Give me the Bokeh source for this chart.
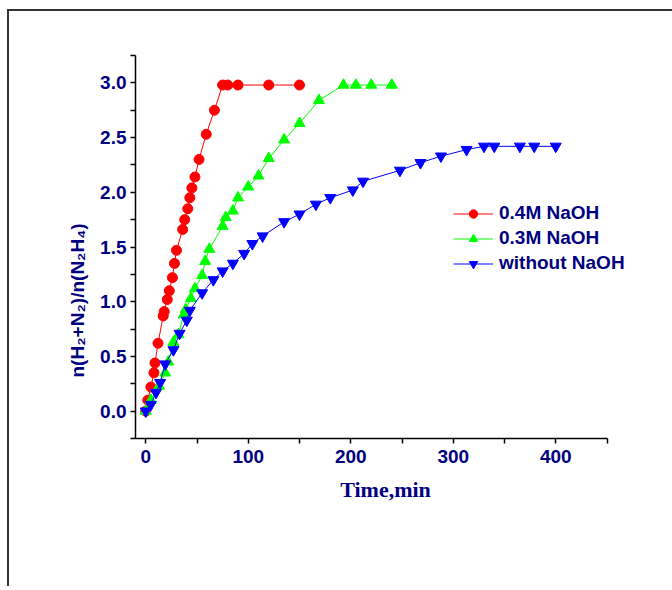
from bokeh.plotting import figure
from bokeh.models import FixedTicker, PrintfTickFormatter, Range1d, Title
from bokeh.embed import file_html
from bokeh.resources import INLINE

# ---- data ----
t_04 = [0, 2, 5, 8, 9, 12, 17, 18, 21, 23, 26, 28, 30, 36, 38, 41, 43, 45, 48, 52, 59, 67, 75, 80, 90, 120, 150]
v_04 = [0, 0.10, 0.22, 0.35, 0.44, 0.62, 0.87, 0.91, 1.02, 1.10, 1.22, 1.35, 1.47, 1.66, 1.75, 1.85, 1.95,
        2.04, 2.14, 2.30, 2.53, 2.75, 2.98, 2.98, 2.98, 2.98, 2.98]

t_03 = [0, 5, 13, 19, 22, 27, 32, 37, 39, 44, 48, 55, 58, 62, 75, 78, 85, 90, 100, 110, 120, 135, 150, 169,
        193, 205, 220, 240]
v_03 = [0, 0.10, 0.23, 0.35, 0.45, 0.63, 0.70, 0.88, 0.93, 1.03, 1.12, 1.24, 1.37, 1.48, 1.69, 1.77, 1.83,
        1.95, 2.05, 2.15, 2.31, 2.48, 2.63, 2.84, 2.98, 2.98, 2.98, 2.98]

t_00 = [0, 5, 10, 14, 19, 27, 33, 40, 43, 55, 66, 75, 85, 96, 104, 114, 135, 150, 166, 180, 202, 212, 248,
        268, 288, 313, 330, 340, 365, 379, 400]
v_00 = [0, 0.06, 0.17, 0.26, 0.43, 0.56, 0.71, 0.83, 0.92, 1.08, 1.20, 1.28, 1.35, 1.44, 1.53, 1.60, 1.73,
        1.80, 1.89, 1.95, 2.02, 2.10, 2.20, 2.27, 2.33, 2.39, 2.42, 2.42, 2.42, 2.42, 2.42]

series_labels = ["0.4M NaOH", "0.3M NaOH", "without NaOH"]
x_major = [0, 100, 200, 300, 400]
x_minor = [50, 150, 250, 350, 450]
y_major = [0.0, 0.5, 1.0, 1.5, 2.0, 2.5, 3.0]
y_minor = [-0.25, 0.25, 0.75, 1.25, 1.75, 2.25, 2.75, 3.25]
x_title = "Time,min"
y_title = "n(H\u2082+N\u2082)/n(N\u2082H\u2084)"

NAVY = "#000080"
FONT = "Liberation Sans"

# frame is a bit wider than the drawn x axis so the legend text is not clipped
p = figure(frame_width=500, frame_height=383,
           min_border_left=126, min_border_top=44, min_border_right=37, min_border_bottom=148,
           x_range=Range1d(-10, 477.8), y_range=Range1d(-0.25, 3.25),
           output_backend="svg", toolbar_location=None)
p.styles = {"border-left": "2px solid #333333", "border-top": "2px solid #333333",
            "margin-left": "7px", "margin-top": "9px"}
p.outline_line_color = None
p.xgrid.grid_line_color = None
p.ygrid.grid_line_color = None
p.background_fill_color = "white"
p.border_fill_color = "white"

for ax in (p.xaxis[0], p.yaxis[0]):
    ax.axis_line_color = "black"
    ax.axis_line_width = 1.5
    ax.major_tick_line_color = "black"
    ax.major_tick_line_width = 1.5
    ax.minor_tick_line_color = "black"
    ax.minor_tick_line_width = 1.5
    ax.major_tick_in = 0
    ax.major_tick_out = 5
    ax.minor_tick_in = 0
    ax.minor_tick_out = 5
    ax.major_label_text_font = FONT
    ax.major_label_text_font_style = "bold"
    ax.major_label_text_font_size = "19px"
    ax.major_label_text_color = NAVY

p.xaxis[0].bounds = (-10, 450)
p.xaxis[0].ticker = FixedTicker(ticks=x_major, minor_ticks=x_minor)
p.yaxis[0].ticker = FixedTicker(ticks=y_major, minor_ticks=y_minor)
p.yaxis[0].formatter = PrintfTickFormatter(format="%.1f")
p.xaxis[0].major_label_standoff = 6
p.yaxis[0].major_label_standoff = 4

p.xaxis[0].axis_label = x_title
p.xaxis[0].axis_label_text_font = "Liberation Serif"
p.xaxis[0].axis_label_text_font_style = "bold"
p.xaxis[0].axis_label_text_font_size = "22px"
p.xaxis[0].axis_label_text_color = NAVY
p.xaxis[0].axis_label_standoff = 11

# y title: sits below the frame centre in the reference, so placed as a side title
ytitle = Title(text=y_title, align="left", offset=61,
               text_font=FONT, text_font_style="bold", text_font_size="19px",
               text_color=NAVY, standoff=20)
p.add_layout(ytitle, "left")

styles = [
    (t_04, v_04, "#FF0000", "circle", 10),
    (t_03, v_03, "#00FF00", "triangle", 11),
    (t_00, v_00, "#0000FF", "inverted_triangle", 11),
]
for (tx, vy, col, mk, sz), lab in zip(styles, series_labels):
    p.line(tx, vy, line_color=col, line_width=1, legend_label=lab)
    p.scatter(tx, vy, marker=mk, size=sz, fill_color=col, line_color=col, legend_label=lab)

lg = p.legend[0]
lg.location = (318, 164)
lg.border_line_color = None
lg.background_fill_alpha = 0
lg.padding = 0
lg.margin = 0
lg.spacing = 3
lg.glyph_width = 40
lg.glyph_height = 21
lg.label_height = 21
lg.label_standoff = 6
lg.label_text_font = FONT
lg.label_text_font_style = "bold"
lg.label_text_font_size = "19px"
lg.label_text_color = NAVY
lg.label_text_baseline = "middle"

open("out.html", "w").write(file_html(p, INLINE))
